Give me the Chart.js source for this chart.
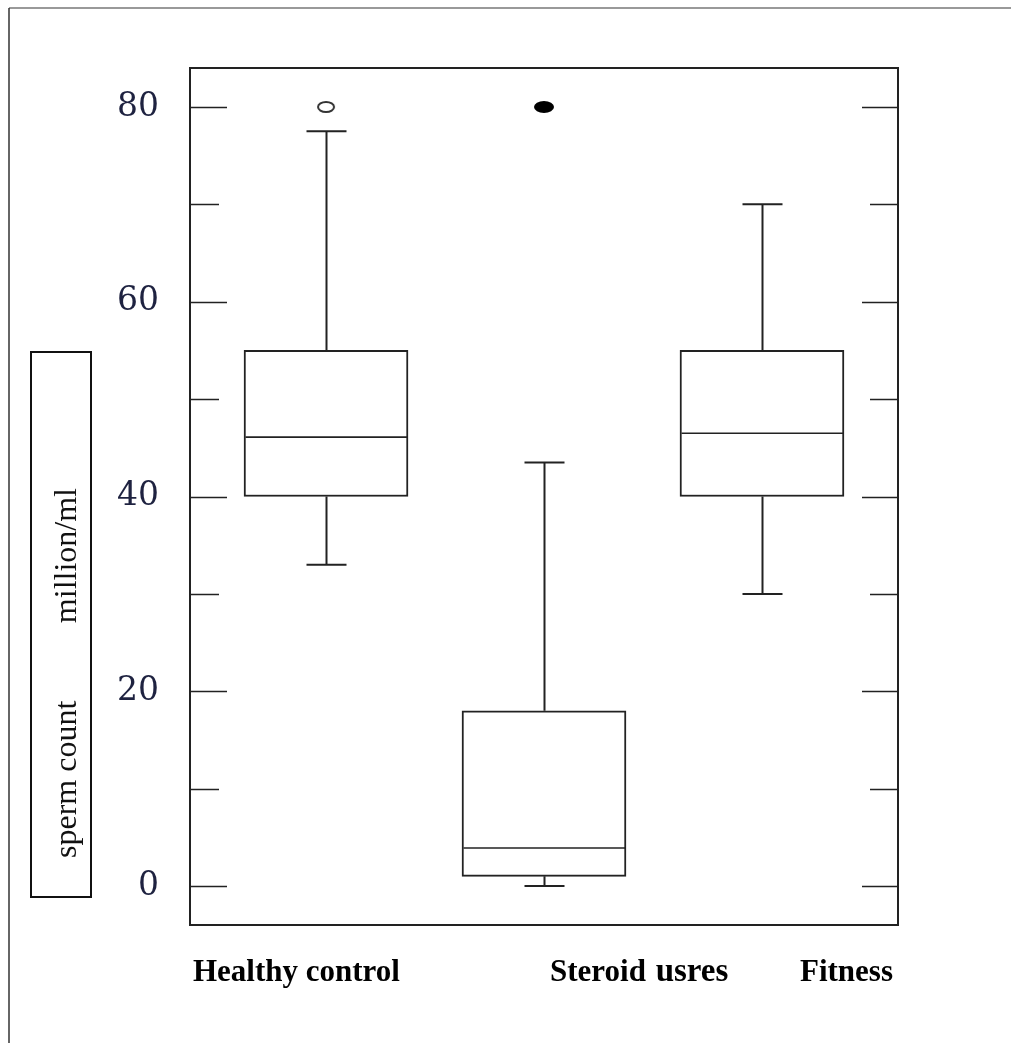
<!DOCTYPE html>
<html>
<head>
<meta charset="utf-8">
<title>Sperm count box plot</title>
<script src="https://cdn.jsdelivr.net/npm/chart.js@4.4.1/dist/chart.umd.min.js"></script>
<style>
  html, body { margin: 0; padding: 0; background: #fff; }
  #wrap { position: relative; width: 1011px; height: 1043px; }
</style>
</head>
<body>
<div id="wrap"><canvas id="boxChart" width="1011" height="1043"></canvas></div>
<script>
// ---- data ----
const groups = ["Healthy control", "Steroid usres", "Fitness"];
const groupPos = [1, 2, 3];
const q1 = [40, 1, 40];
const q3 = [55, 18, 55];
const medians = [46.1, 3.9, 46.5];
const whiskerLow = [33, 0, 30];
const whiskerHigh = [77.5, 43.5, 70];
const outlierX = [1, 2];
const outlierY = [80, 80];
const outlierFilled = [false, true];
const yTickLabels = [0, 20, 40, 60, 80];
const yTickMarks = [0, 10, 20, 30, 40, 50, 60, 70, 80];
const yTitle = ["sperm count", "million/ml"];

const INK = "#222";

// small ellipse images used as point styles for the outliers
function ellipseMark(filled) {
  const c = document.createElement("canvas");
  c.width = 24; c.height = 16;
  const g = c.getContext("2d");
  g.beginPath();
  g.ellipse(12, 8, filled ? 10 : 8, filled ? 6 : 5, 0, 0, Math.PI * 2);
  if (filled) { g.fillStyle = "#000"; g.fill(); }
  else { g.lineWidth = 2; g.strokeStyle = "#333"; g.stroke(); }
  return c;
}

// whiskers, medians, frame, inner ticks, labels
const boxExtras = {
  id: "boxExtras",
  beforeDraw(chart) {
    const ctx = chart.ctx;
    ctx.save();
    // page border (top and left)
    ctx.strokeStyle = "#777";
    ctx.lineWidth = 1.5;
    ctx.beginPath();
    ctx.moveTo(9, 8); ctx.lineTo(1011, 8);
    ctx.stroke();
    ctx.strokeStyle = "#333";
    ctx.beginPath();
    ctx.moveTo(9, 8); ctx.lineTo(9, 1043);
    ctx.stroke();

    // y title box
    ctx.strokeStyle = "#111";
    ctx.lineWidth = 2;
    ctx.strokeRect(31, 352, 60, 545);
    ctx.fillStyle = "#111";
    ctx.font = "32px 'Liberation Serif'";
    ctx.translate(76, 0);
    ctx.rotate(-Math.PI / 2);
    ctx.textBaseline = "alphabetic";
    ctx.textAlign = "left";
    ctx.fillText(yTitle[0], -858, 0);
    ctx.textAlign = "right";
    ctx.fillText(yTitle[1], -488, 0);
    ctx.restore();
  },
  afterDatasetsDraw(chart) {
    const ctx = chart.ctx;
    const x = chart.scales.x, y = chart.scales.y;
    const a = chart.chartArea;
    ctx.save();
    ctx.strokeStyle = INK;
    ctx.lineCap = "butt";

    groupPos.forEach((p, i) => {
      const cx = Math.round(x.getPixelForValue(p)) + 0.5;
      ctx.lineWidth = 2;
      ctx.beginPath();
      ctx.moveTo(cx, y.getPixelForValue(q3[i]));
      ctx.lineTo(cx, y.getPixelForValue(whiskerHigh[i]));
      ctx.moveTo(cx, y.getPixelForValue(q1[i]));
      ctx.lineTo(cx, y.getPixelForValue(whiskerLow[i]));
      ctx.stroke();
      // caps
      ctx.beginPath();
      [whiskerHigh[i], whiskerLow[i]].forEach(v => {
        const py = y.getPixelForValue(v);
        ctx.moveTo(cx - 20, py); ctx.lineTo(cx + 20, py);
      });
      ctx.stroke();
      // median
      const half = 81;
      ctx.lineWidth = 1.6;
      ctx.beginPath();
      const my = y.getPixelForValue(medians[i]);
      ctx.moveTo(cx - half, my); ctx.lineTo(cx + half, my);
      ctx.stroke();
    });

    // frame
    ctx.lineWidth = 2;
    ctx.strokeRect(a.left, a.top, a.right - a.left, a.bottom - a.top);

    // inner tick marks on both sides
    ctx.beginPath();
    yTickMarks.forEach(v => {
      const py = Math.round(y.getPixelForValue(v)) + 0.5;
      const major = yTickLabels.includes(v);
      ctx.moveTo(a.left, py); ctx.lineTo(a.left + (major ? 37 : 29), py);
      ctx.moveTo(a.right, py); ctx.lineTo(a.right - (major ? 36 : 28), py);
    });
    ctx.lineWidth = 1.6;
    ctx.stroke();

    // group labels under the plot
    ctx.fillStyle = "#000";
    ctx.textBaseline = "alphabetic";
    ctx.textAlign = "left";
    const base = a.bottom + 56;
    ctx.font = "bold 31px 'Liberation Serif'";
    ctx.fillText(groups[0], 193, base);
    const parts = groups[1].split(" ");
    ctx.fillText(parts[0], 550, base);
    const w0 = ctx.measureText(parts[0] + " ").width;
    ctx.font = "bold 33px 'Liberation Serif'";
    ctx.fillText(parts[1], 550 + w0 + 2, base);
    ctx.font = "bold 31px 'Liberation Serif'";
    ctx.fillText(groups[2], 800, base);
    ctx.restore();
  }
};

new Chart(document.getElementById("boxChart"), {
  type: "bar",
  data: {
    datasets: [
      {
        type: "bar",
        label: "IQR",
        data: groupPos.map((p, i) => ({ x: p, y: [q1[i], q3[i]] })),
        backgroundColor: "#fff",
        borderColor: INK,
        borderWidth: 2,
        borderSkipped: false,
        barThickness: 164
      },
      {
        type: "scatter",
        label: "Outliers",
        data: outlierX.map((p, i) => ({ x: p, y: outlierY[i] })),
        pointStyle: outlierFilled.map(f => ellipseMark(f)),
        pointRadius: 8
      }
    ]
  },
  options: {
    responsive: false,
    animation: false,
    layout: { padding: { left: 0, top: 68, right: 113, bottom: 118 } },
    plugins: { legend: { display: false }, tooltip: { enabled: false } },
    scales: {
      x: { type: "linear", min: 0.376, max: 3.624, offset: false, display: false },
      y: {
        type: "linear",
        min: -4,
        max: 84,
        afterBuildTicks: s => { s.ticks = yTickLabels.map(v => ({ value: v })); },
        afterFit: s => { s.width = 190; },
        grid: { display: false, drawTicks: false },
        border: { display: false },
        ticks: {
          color: "#1e2240",
          padding: 31,
          font: { family: "'DejaVu Serif'", size: 33 }
        }
      }
    }
  },
  plugins: [boxExtras]
});
</script>
</body>
</html>
